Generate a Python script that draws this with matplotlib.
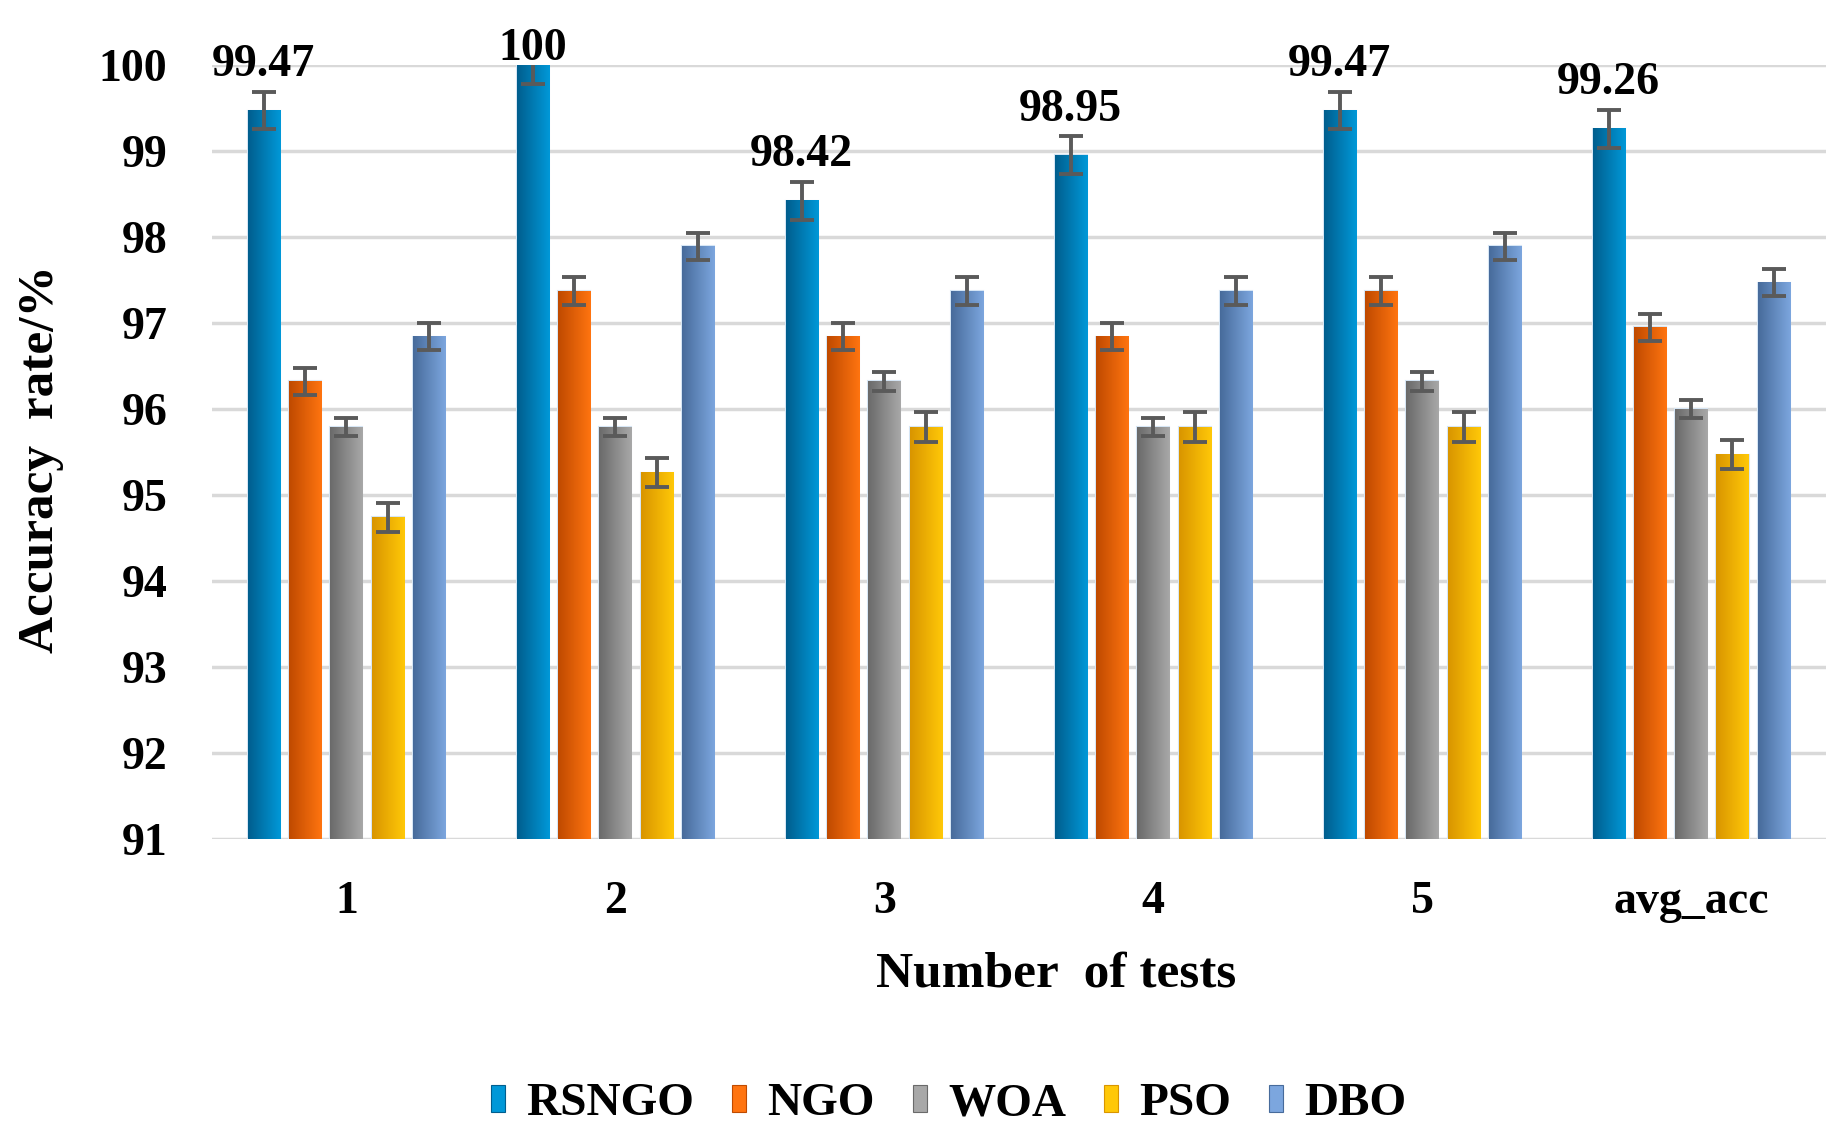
import numpy as np
import matplotlib
matplotlib.use("Agg")
import matplotlib.pyplot as plt
from matplotlib.colors import LinearSegmentedColormap
from matplotlib.patches import Patch

# ------------------------
# Data
# ------------------------
groups = ["1", "2", "3", "4", "5", "avg_acc"]
methods = ["RSNGO", "NGO", "WOA", "PSO", "DBO"]

rsngo = [99.47, 100.00, 98.42, 98.95, 99.47, 99.26]
ngo = [96.32, 97.37, 96.84, 96.84, 97.37, 96.95]
woa = [95.79, 95.79, 96.32, 95.79, 96.32, 96.00]
pso = [94.74, 95.26, 95.79, 95.79, 95.79, 95.47]
dbo = [96.84, 97.89, 97.37, 97.37, 97.89, 97.47]

errors = [0.22, 0.16, 0.11, 0.17, 0.16]

series = [rsngo, ngo, woa, pso, dbo]

# gradient (dark left -> light right) per method
shades = [("#005e8e", "#0098d8"),
          ("#bf4a00", "#ff7410"),
          ("#6a6a6a", "#a8a8a8"),
          ("#d99500", "#ffc808"),
          ("#476b9b", "#7ca6de")]

# ------------------------
# Plot
# ------------------------
plt.rcParams['font.family'] = ['Liberation Serif', 'DejaVu Serif']
plt.rcParams['font.weight'] = 'bold'

fig = plt.figure(figsize=(18.46, 11.48), dpi=100)
ax = fig.add_axes([0.1148, 0.2692, 0.8742, 0.6742])

x = np.arange(len(groups))
pitch = 0.1535
width = 0.119
ymin, ymax = 91, 100

for i, (vals, (c0, c1)) in enumerate(zip(series, shades)):
    pos = x + (i - 2) * pitch
    cmap = LinearSegmentedColormap.from_list(methods[i], [c0, c1])
    bars = ax.bar(pos, np.array(vals) - ymin, width, bottom=ymin,
                  color=c1, edgecolor="#d6e6f5", linewidth=1.5, zorder=2)
    grad = np.linspace(0, 1, 64).reshape(1, -1)
    for b in bars:
        bx, by = b.get_x(), b.get_y()
        ax.imshow(grad, extent=(bx, bx + b.get_width(), by, by + b.get_height()),
                  aspect='auto', cmap=cmap, zorder=2.5, interpolation='bicubic')
    ax.errorbar(pos, vals, yerr=errors[i], fmt='none', ecolor="#5a5a5a",
                elinewidth=2.8, capsize=8.5, capthick=2.8, zorder=4)

# labels on RSNGO bars
for xi, v in zip(x - 2 * pitch, rsngo):
    ax.text(xi, min(v + 0.4, ymax + 0.06), f"{v:g}" if v == 100 else f"{v:.2f}",
            ha='center', va='baseline', fontsize=33, fontweight='bold',
            clip_on=False, zorder=5)

ax.set_xlim(-0.5, len(groups) - 0.5)
ax.set_ylim(ymin, ymax)
ax.set_yticks(range(91, 101))
ax.set_xticks(x)
ax.set_xticklabels(groups)
ax.tick_params(axis='both', length=0, labelsize=33)
ax.tick_params(axis='y', pad=32)
ax.tick_params(axis='x', pad=30)
for lab in ax.get_xticklabels() + ax.get_yticklabels():
    lab.set_fontweight('bold')

ax.grid(axis='y', color="#d9d9d9", linewidth=2.5, zorder=0)
ax.set_axisbelow(True)
for s in ax.spines.values():
    s.set_visible(False)

fig.text(0.022, 0.6, "Accuracy  rate/%", rotation=90, ha='center', va='center',
         fontsize=37, fontweight='bold')
fig.text(0.572, 0.151, "Number  of tests", ha='center', va='center',
         fontsize=37, fontweight='bold')

handles = [Patch(facecolor=c1, edgecolor=c0, linewidth=0.8) for c0, c1 in shades]
fig.legend(handles, methods, loc='center', bbox_to_anchor=(0.514, 0.038),
           ncol=5, frameon=False, handlelength=0.3,
           handleheight=0.5, handletextpad=0.45, columnspacing=0.8,
           prop={'weight': 'bold', 'size': 34})

fig.savefig("out.png", dpi=100)
